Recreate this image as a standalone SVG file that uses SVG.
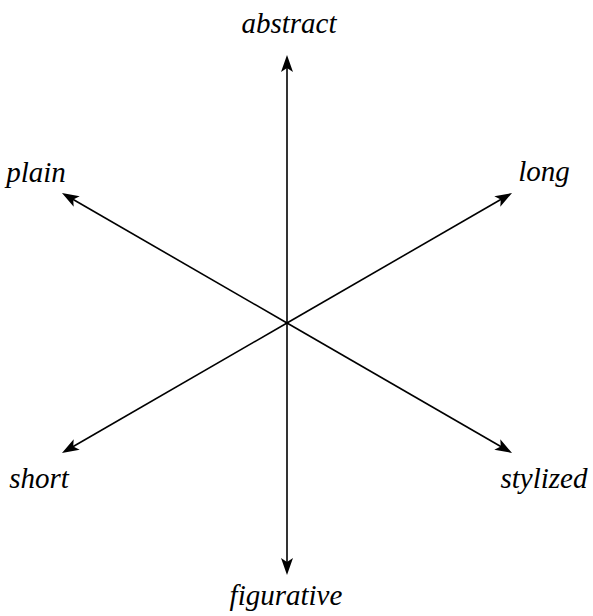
<svg xmlns="http://www.w3.org/2000/svg" width="593" height="616" viewBox="0 0 593 616">
  <style>
    .lbl { font-family: "Liberation Serif", "Times New Roman", serif; font-style: italic; font-size: 29px; fill: #000; text-anchor: middle; }
    .ax { stroke: #000; stroke-width: 1.6; fill: none; marker-end: url(#arr); }
  </style>
  <defs>
    <marker id="arr" markerUnits="userSpaceOnUse" viewBox="-12 -8 22 16" markerWidth="22" markerHeight="16" refX="0" refY="0" orient="auto" overflow="visible">
      <path d="M8,0 L-9,-6 L-5,0 L-9,6 Z" fill="#000"/>
    </marker>
  </defs>
  <rect width="593" height="616" fill="#fff"/>
  <g id="connectors">
    <line class="ax" x1="287" y1="323" x2="287" y2="63"/>
    <line class="ax" x1="287" y1="323" x2="287" y2="567"/>
    <line class="ax" x1="287" y1="323" x2="68.9" y2="197"/>
    <line class="ax" x1="287" y1="323" x2="505.1" y2="197"/>
    <line class="ax" x1="287" y1="323" x2="68.9" y2="449"/>
    <line class="ax" x1="287" y1="323" x2="505.1" y2="449"/>
  </g>
  <g id="abstract"><text class="lbl" x="289" y="33">abstract</text></g>
  <g id="plain"><text class="lbl" x="36" y="182">plain</text></g>
  <g id="long"><text class="lbl" x="544" y="181">long</text></g>
  <g id="short"><text class="lbl" x="39" y="488">short</text></g>
  <g id="stylized"><text class="lbl" x="544" y="488">stylized</text></g>
  <g id="figurative"><text class="lbl" x="286" y="605">figurative</text></g>
</svg>
